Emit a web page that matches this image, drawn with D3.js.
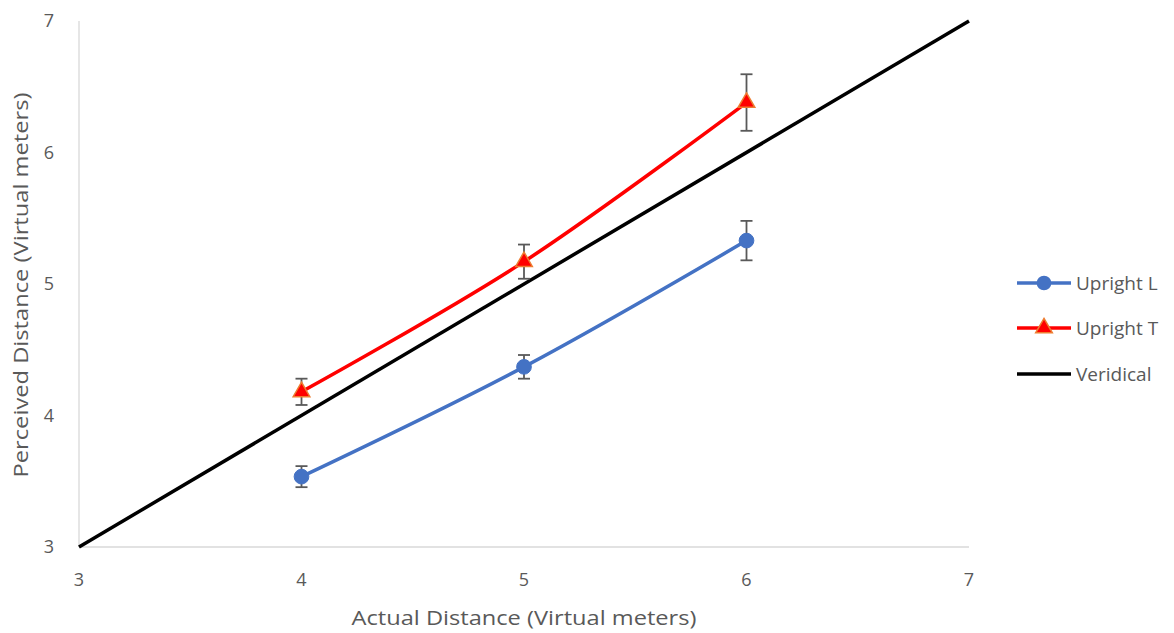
<!DOCTYPE html>
<html><head><meta charset="utf-8">
<script src="https://cdn.jsdelivr.net/npm/d3@7"></script>
<style>body{margin:0;background:#fff}svg{display:block}text{font-family:"Open Sans","Noto Sans",sans-serif;fill:#595959}</style>
</head><body><svg id="c" width="1174" height="633"></svg>
<script>
const xTicks = [3, 4, 5, 6, 7];
const yTicks = [3, 4, 5, 6, 7];
const actual = [4, 5, 6];
const uprightL = [3.535, 4.37, 5.33];
const uprightLErr = [0.08, 0.09, 0.15];
const uprightT = [4.18, 5.17, 6.38];
const uprightTErr = [0.10, 0.13, 0.215];
const veridicalX = [3, 7];
const veridicalY = [3, 7];
const seriesNames = ["Upright L", "Upright T", "Veridical"];

const svg = d3.select("#c");
const x = d3.scaleLinear().domain([3, 7]).range([79, 969]);
const y = d3.scaleLinear().domain([3, 7]).range([547, 21]);

// axes
svg.append("line").attr("x1", x(3)).attr("x2", x(3)).attr("y1", y(3)).attr("y2", y(7)).attr("stroke", "#d9d9d9").attr("stroke-width", 1.3);
svg.append("line").attr("x1", x(3)).attr("x2", x(7)).attr("y1", y(3)).attr("y2", y(3)).attr("stroke", "#d9d9d9").attr("stroke-width", 1.3);

svg.selectAll(".xt").data(xTicks).enter().append("text")
  .attr("x", d => x(d)).attr("y", 586).attr("text-anchor", "middle").attr("font-size", 18).text(d => d);
svg.selectAll(".yt").data(yTicks).enter().append("text")
  .attr("x", 54).attr("y", d => y(d) + 6).attr("text-anchor", "end").attr("font-size", 18).text(d => d);

svg.append("text").attr("x", 524).attr("y", 625).attr("text-anchor", "middle").attr("font-size", 20)
  .attr("textLength", 345).attr("lengthAdjust", "spacingAndGlyphs").text("Actual Distance (Virtual meters)");
svg.append("text").attr("transform", "translate(28,285) rotate(-90)").attr("text-anchor", "middle").attr("font-size", 20)
  .attr("textLength", 385).attr("lengthAdjust", "spacingAndGlyphs").text("Perceived Distance (Virtual meters)");

const curve = d3.curveCatmullRom.alpha(0);
const line = d3.line().x(d => x(d[0])).y(d => y(d[1])).curve(curve);

// veridical
svg.append("path").datum(veridicalX.map((v, i) => [v, veridicalY[i]]))
  .attr("d", d3.line().x(d => x(d[0])).y(d => y(d[1])))
  .attr("fill", "none").attr("stroke", "#000").attr("stroke-width", 3.5);

function errBars(vals, errs) {
  const g = svg.append("g").attr("stroke", "#595959").attr("stroke-width", 1.8);
  actual.forEach((a, i) => {
    const cx = x(a), t = y(vals[i] + errs[i]), b = y(vals[i] - errs[i]);
    g.append("line").attr("x1", cx).attr("x2", cx).attr("y1", t).attr("y2", b);
    g.append("line").attr("x1", cx - 6).attr("x2", cx + 6).attr("y1", t).attr("y2", t);
    g.append("line").attr("x1", cx - 6).attr("x2", cx + 6).attr("y1", b).attr("y2", b);
  });
}
errBars(uprightL, uprightLErr);
errBars(uprightT, uprightTErr);

svg.append("path").datum(actual.map((a, i) => [a, uprightL[i]])).attr("d", line)
  .attr("fill", "none").attr("stroke", "#4472C4").attr("stroke-width", 3.5);
svg.append("path").datum(actual.map((a, i) => [a, uprightT[i]])).attr("d", line)
  .attr("fill", "none").attr("stroke", "#FF0000").attr("stroke-width", 3.5);

const circ = d3.symbol().type(d3.symbolCircle).size(170);
const tri = d3.symbol().type(d3.symbolTriangle).size(120);
svg.selectAll(".ml").data(actual).enter().append("path")
  .attr("transform", (d, i) => `translate(${x(d)},${y(uprightL[i])})`).attr("d", circ)
  .attr("fill", "#4472C4").attr("stroke", "#4472C4").attr("stroke-width", 1);
svg.selectAll(".mt").data(actual).enter().append("path")
  .attr("transform", (d, i) => `translate(${x(d)},${y(uprightT[i])})`).attr("d", tri)
  .attr("fill", "#FF0000").attr("stroke", "#ED7D31").attr("stroke-width", 1.5);

// legend
const ly = [283, 328, 374];
const colors = ["#4472C4", "#FF0000", "#000"];
seriesNames.forEach((n, i) => {
  svg.append("line").attr("x1", 1017).attr("x2", 1071).attr("y1", ly[i]).attr("y2", ly[i])
    .attr("stroke", colors[i]).attr("stroke-width", 3.5);
  if (i === 0) svg.append("path").attr("transform", `translate(1044,${ly[i]})`).attr("d", circ).attr("fill", "#4472C4");
  if (i === 1) svg.append("path").attr("transform", `translate(1044,${ly[i]})`).attr("d", tri)
    .attr("fill", "#FF0000").attr("stroke", "#ED7D31").attr("stroke-width", 1.5);
  svg.append("text").attr("x", 1076).attr("y", ly[i] + 7).attr("font-size", 19).text(n);
});
</script></body></html>
